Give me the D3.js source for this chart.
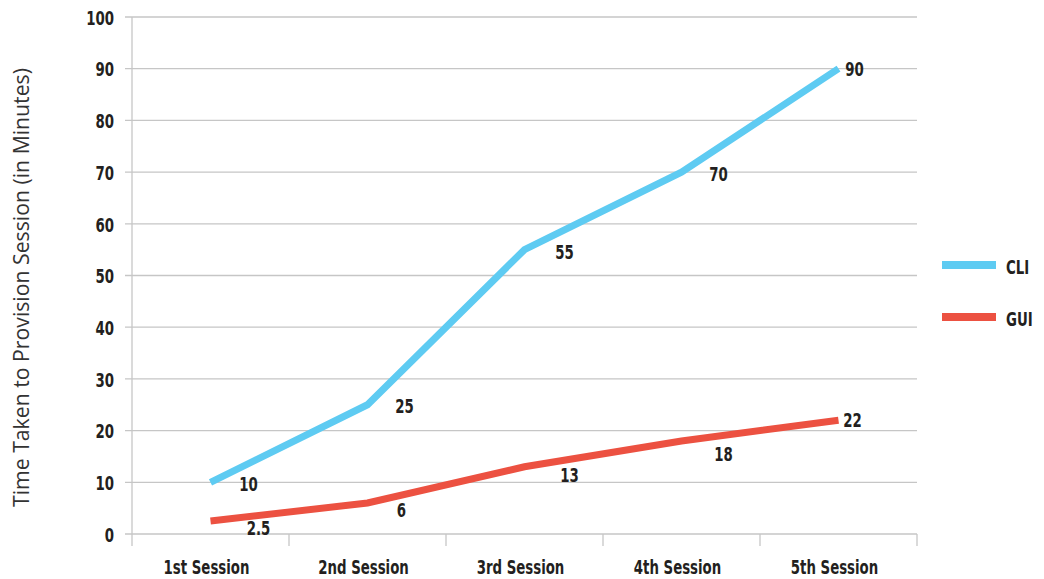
<!DOCTYPE html>
<html>
<head>
<meta charset="utf-8">
<script src="https://cdn.jsdelivr.net/npm/d3@7"></script>
<style>
  html, body { margin: 0; padding: 0; background: #fff; }
  svg { display: block; }
  .bold { font-family: "Liberation Sans Narrow", "DejaVu Sans Condensed", "Roboto Condensed", sans-serif; font-weight: bold; font-stretch: condensed; fill: #231f20; font-size: 20px; }
</style>
</head>
<body>
<svg id="chart" width="1044" height="579"></svg>
<script>
// Sessions on the x axis
const sessions = ["1st Session", "2nd Session", "3rd Session", "4th Session", "5th Session"];
// Minutes to provision each session
const cliValues = [10, 25, 55, 70, 90];
const guiValues = [2.5, 6, 13, 18, 22];
const seriesNames = ["CLI", "GUI"];
const yTicks = [0, 10, 20, 30, 40, 50, 60, 70, 80, 90, 100];

// Value label nudges (px) relative to each point
const cliLabelShift = [[38, 1], [37, 1], [40, 2], [37, 2], [16, 0]];
const guiLabelShift = [[48, 7], [34, 7], [45, 8], [42, 13], [14, 0]];

const colors = { CLI: "#5ecbf2", GUI: "#ec5141" };

const svg = d3.select("#chart");
const plotLeft = 132, plotRight = 917, plotTop = 17, plotBottom = 534;

const x = d3.scaleBand().domain(sessions).range([plotLeft, plotRight]);
const y = d3.scaleLinear().domain([0, 100]).range([plotBottom, plotTop]);
const cx = d => x(d) + x.bandwidth() / 2;

// Squeeze bold labels horizontally into a narrow face
function condense(sel, factor = 0.74) {
  sel.each(function () {
    const w = this.getComputedTextLength();
    d3.select(this).attr("textLength", w * factor).attr("lengthAdjust", "spacingAndGlyphs");
  });
}

// Horizontal gridlines
svg.append("g").selectAll("line").data(yTicks).join("line")
  .attr("x1", plotLeft - 7).attr("x2", plotRight)
  .attr("y1", d => y(d)).attr("y2", d => y(d))
  .attr("stroke", "#c6c6c6").attr("stroke-width", 1.3);

// Vertical axis line
svg.append("line")
  .attr("x1", plotLeft).attr("x2", plotLeft).attr("y1", plotTop).attr("y2", plotBottom + 12)
  .attr("stroke", "#c6c6c6").attr("stroke-width", 1.3);

// Category boundary ticks
svg.append("g").selectAll("line").data(d3.range(1, sessions.length + 1)).join("line")
  .attr("x1", i => plotLeft + x.step() * i).attr("x2", i => plotLeft + x.step() * i)
  .attr("y1", plotBottom).attr("y2", plotBottom + 12)
  .attr("stroke", "#c6c6c6").attr("stroke-width", 1.3);

// Y tick labels
const yAxis = svg.append("g").attr("transform", `translate(${plotLeft - 18},0)`)
  .call(d3.axisLeft(y).tickValues(yTicks).tickSize(0).tickPadding(0));
yAxis.select(".domain").remove();
yAxis.attr("font-size", null).attr("font-family", null);
yAxis.selectAll("text").attr("class", "bold").attr("dy", "0.36em").call(condense);

// X tick labels
const xAxis = svg.append("g").attr("transform", `translate(-4,${plotBottom})`)
  .call(d3.axisBottom(x).tickSize(0).tickPadding(0));
xAxis.select(".domain").remove();
xAxis.attr("font-size", null).attr("font-family", null);
xAxis.selectAll("text").attr("class", "bold").attr("y", 40).attr("dy", "0").call(condense);

// Y axis title
svg.append("text")
  .attr("transform", "translate(29,287.5) rotate(-90)")
  .attr("text-anchor", "middle")
  .attr("textLength", 439).attr("lengthAdjust", "spacingAndGlyphs")
  .style("font-family", "'Open Sans', 'Liberation Sans', sans-serif")
  .style("font-size", "21px").style("fill", "#333")
  .text("Time Taken to Provision Session (in Minutes)");

const line = d3.line().x((d, i) => cx(sessions[i])).y(d => y(d));

function drawSeries(values, name, shifts) {
  svg.append("path").datum(values)
    .attr("d", line)
    .attr("fill", "none")
    .attr("stroke", colors[name])
    .attr("stroke-width", 7)
    .attr("stroke-linejoin", "miter");
  svg.append("g").selectAll("text").data(values).join("text")
    .attr("class", "bold")
    .attr("text-anchor", "middle")
    .attr("x", (d, i) => cx(sessions[i]) + shifts[i][0])
    .attr("y", (d, i) => y(d) + shifts[i][1])
    .attr("dy", "0.36em")
    .text(d => d)
    .call(condense);
}
drawSeries(cliValues, "CLI", cliLabelShift);
drawSeries(guiValues, "GUI", guiLabelShift);

// Legend
const legend = svg.append("g").selectAll("g").data(seriesNames).join("g")
  .attr("transform", (d, i) => `translate(942,${265 + i * 52})`);
legend.append("line").attr("x1", 0).attr("x2", 54).attr("y1", 0).attr("y2", 0)
  .attr("stroke", d => colors[d]).attr("stroke-width", 8);
legend.append("text").attr("class", "bold")
  .attr("x", 64).attr("y", 2).attr("dy", "0.36em").text(d => d).call(condense);
</script>
</body>
</html>
